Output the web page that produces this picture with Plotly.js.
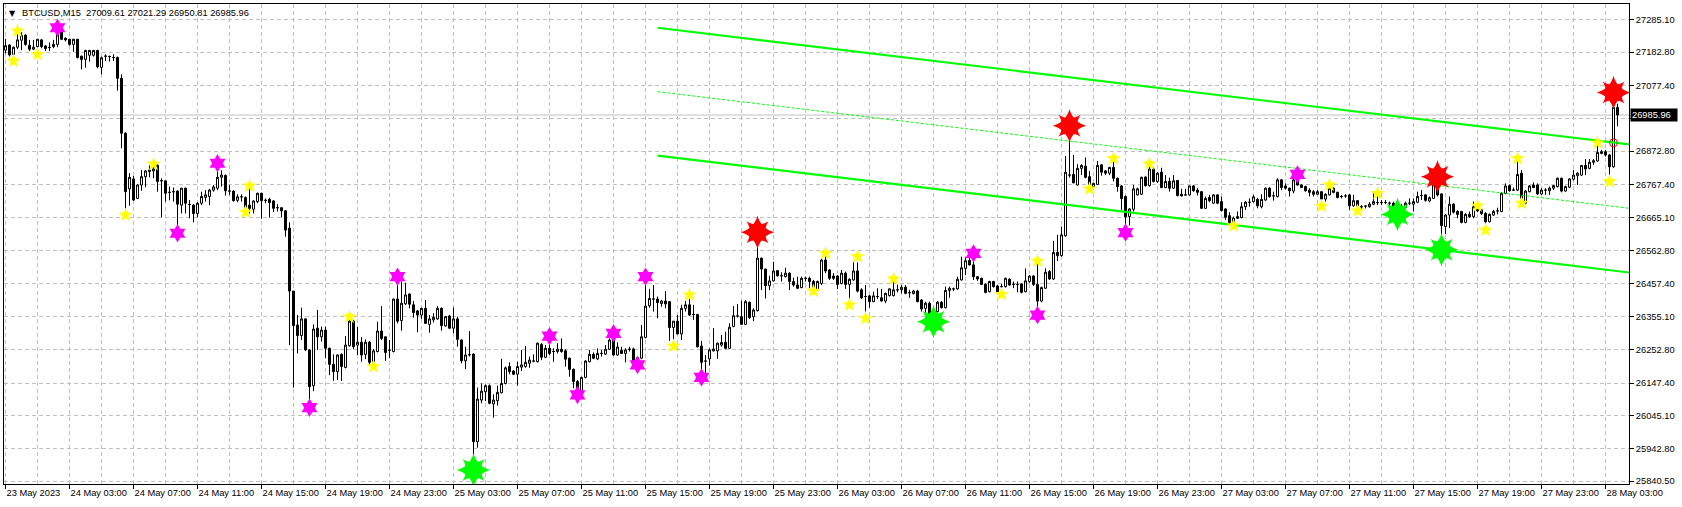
<!DOCTYPE html>
<html><head><meta charset="utf-8">
<script src="https://cdn.plot.ly/plotly-3.0.1.min.js"></script>
<style>html,body{margin:0;padding:0;background:#fff}#chart{width:1682px;height:507px}</style>
</head><body><div id="chart"></div>
<script>
// Bar index 0 = 24 May 03:00 (M15 bars), first bar = 23 May 23:00
const symbol = 'BTCUSD', period = 'M15';
const firstBar = -16;
const open = [
27189,27205,27176,27198,27220,27236,27204,27192,
27200,27221,27202,27198,27200,27207,27245,27226,
27223,27207,27223,27170,27160,27173,27173,27188,
27135,27170,27169,27166,27166,27101,26929,26755,
26786,26725,26767,26793,26809,26811,26829,26781,
26780,26744,26746,26748,26704,26757,26706,26704,
26678,26710,26728,26731,26751,26757,26791,26797,
26748,26748,26719,26730,26728,26704,26691,26715,
26741,26719,26722,26717,26696,26696,26686,26632,
26435,26329,26296,26348,26251,26139,26319,26292,
26313,26256,26206,26183,26237,26196,26264,26341,
26266,26275,26237,26275,26214,26246,26310,26292,
26250,26246,26410,26343,26395,26426,26392,26373,
26360,26381,26331,26345,26348,26381,26326,26357,
26319,26348,26282,26217,26236,26238,25964,26094,
26120,26139,26082,26092,26117,26146,26199,26185,
26175,26197,26199,26209,26216,26214,26268,26228,
26256,26246,26246,26253,26248,26225,26190,26152,
26122,26165,26214,26237,26223,26240,26238,26253,
26282,26235,26249,26240,26253,26254,26214,26225,
26290,26389,26410,26410,26396,26404,26402,26321,
26341,26301,26381,26392,26362,26362,26263,26216,
26223,26248,26248,26266,26275,26256,26324,26357,
26355,26331,26400,26355,26374,26538,26504,26452,
26467,26499,26483,26480,26491,26465,26454,26446,
26475,26475,26465,26439,26459,26532,26501,26482,
26482,26459,26491,26456,26470,26498,26439,26418,
26420,26402,26418,26414,26404,26421,26421,26439,
26439,26447,26430,26427,26435,26407,26381,26397,
26371,26371,26400,26383,26437,26442,26442,26470,
26506,26531,26517,26480,26475,26456,26433,26465,
26451,26449,26449,26472,26456,26456,26457,26433,
26465,26482,26456,26404,26444,26496,26473,26556,
26546,26608,26798,26800,26767,26819,26826,26793,
26762,26769,26830,26811,26804,26822,26788,26764,
26731,26668,26691,26736,26738,26792,26765,26817,
26778,26807,26759,26778,26757,26781,26738,26736,
26736,26764,26751,26746,26694,26728,26710,26736,
26715,26692,26671,26650,26668,26665,26699,26713,
26715,26722,26699,26720,26757,26733,26731,26783,
26764,26757,26748,26783,26767,26762,26751,26746,
26738,26746,26723,26736,26757,26744,26731,26733,
26736,26702,26718,26699,26701,26699,26707,26712,
26712,26712,26710,26710,26696,26699,26696,26710,
26707,26713,26734,26736,26717,26725,26767,26739,
26637,26673,26707,26684,26684,26650,26675,26668,
26696,26689,26678,26652,26673,26686,26684,26741,
26765,26751,26751,26804,26710,26746,26767,26767,
26739,26751,26749,26757,26762,26788,26748,26760,
26785,26796,26798,26828,26819,26838,26842,26871,
26871,26861,26824,27009.61
];
const high = [
27224,27207,27200,27238,27245,27238,27221,27221,
27224,27224,27205,27213,27221,27252,27255,27229,
27224,27224,27224,27172,27190,27190,27190,27190,
27169,27176,27172,27176,27169,27113,26932,26804,
26795,26769,26814,26814,26828,26828,26830,26788,
26780,26762,26759,26750,26758,26759,26720,26707,
26713,26746,26751,26755,26767,26809,26813,26800,
26767,26750,26738,26738,26731,26755,26719,26743,
26743,26725,26727,26720,26707,26696,26689,26650,
26435,26360,26383,26350,26253,26331,26376,26324,
26324,26258,26237,26237,26240,26294,26355,26345,
26323,26291,26284,26279,26254,26339,26388,26292,
26282,26412,26467,26465,26461,26428,26404,26376,
26383,26407,26360,26366,26388,26384,26357,26360,
26384,26355,26284,26261,26310,26240,26133,26146,
26143,26143,26112,26139,26223,26199,26212,26188,
26214,26251,26263,26230,26237,26274,26272,26266,
26282,26256,26272,26287,26253,26227,26193,26157,
26167,26219,26251,26243,26256,26251,26266,26287,
26285,26275,26261,26256,26261,26258,26230,26329,
26470,26442,26454,26418,26407,26435,26402,26341,
26360,26392,26404,26410,26392,26363,26279,26235,
26256,26319,26274,26298,26308,26334,26388,26394,
26405,26407,26402,26381,26581,26540,26504,26483,
26527,26501,26494,26508,26494,26477,26480,26480,
26480,26480,26470,26468,26538,26543,26504,26491,
26485,26501,26496,26475,26527,26525,26444,26454,
26423,26433,26444,26442,26430,26444,26470,26456,
26454,26454,26439,26439,26439,26410,26402,26402,
26379,26404,26404,26449,26449,26446,26480,26543,
26540,26541,26532,26482,26477,26459,26467,26467,
26454,26458,26477,26475,26465,26465,26459,26506,
26485,26485,26519,26449,26506,26501,26592,26611,
26637,26858,26944,26861,26832,26832,26853,26811,
26772,26842,26832,26814,26824,26840,26790,26767,
26734,26694,26767,26759,26793,26794,26828,26821,
26807,26821,26798,26790,26798,26783,26755,26755,
26765,26767,26757,26748,26731,26736,26738,26738,
26731,26694,26682,26668,26684,26713,26717,26725,
26736,26727,26738,26759,26760,26746,26788,26785,
26772,26759,26798,26788,26769,26765,26757,26751,
26751,26748,26741,26759,26759,26746,26736,26738,
26738,26736,26720,26704,26704,26713,26741,26731,
26720,26720,26715,26715,26699,26707,26715,26725,
26725,26746,26751,26738,26731,26780,26772,26741,
26676,26731,26710,26688,26686,26679,26684,26715,
26699,26691,26682,26678,26689,26696,26744,26772,
26769,26759,26840,26814,26751,26767,26775,26772,
26757,26757,26762,26767,26790,26790,26765,26788,
26814,26807,26830,26848,26848,26848,26894,26877,
26877,26863,27015,27021.29
];
const low = [
27179,27169,27172,27192,27189,27203,27186,27189,
27184,27195,27186,27186,27195,27198,27221,27216,
27203,27184,27163,27129,27134,27153,27169,27132,
27113,27155,27153,27155,27062,26882,26684,26702,
26717,26723,26749,26760,26791,26788,26746,26666,
26715,26719,26715,26632,26678,26678,26663,26650,
26666,26704,26715,26704,26746,26751,26762,26734,
26736,26715,26713,26715,26694,26678,26678,26710,
26661,26710,26665,26682,26684,26666,26605,26266,
26133,26240,26282,26248,26073,26122,26251,26277,
26225,26172,26154,26157,26154,26193,26261,26253,
26235,26214,26222,26202,26214,26243,26282,26217,
26225,26243,26334,26311,26392,26381,26352,26306,
26348,26332,26305,26337,26345,26311,26324,26316,
26303,26261,26209,26191,26230,25857,25945,26084,
26091,26081,26039,26077,26115,26143,26175,26172,
26139,26185,26195,26195,26212,26212,26219,26225,
26235,26214,26240,26242,26199,26167,26131,26120,
26120,26162,26212,26222,26219,26230,26235,26251,
26233,26233,26238,26212,26246,26206,26209,26222,
26287,26383,26371,26350,26386,26381,26279,26282,
26300,26282,26371,26357,26345,26258,26178,26178,
26202,26246,26223,26261,26253,26254,26322,26352,
26329,26329,26348,26341,26371,26438,26412,26438,
26465,26480,26465,26478,26438,26449,26441,26444,
26465,26444,26433,26435,26454,26491,26470,26470,
26441,26456,26442,26407,26467,26431,26410,26362,
26383,26400,26410,26402,26397,26418,26418,26431,
26428,26425,26414,26425,26400,26371,26366,26352,
26355,26368,26381,26381,26414,26435,26439,26468,
26485,26515,26470,26467,26454,26428,26431,26446,
26431,26437,26446,26452,26444,26431,26428,26431,
26461,26451,26381,26400,26442,26470,26470,26529,
26543,26605,26790,26772,26765,26798,26788,26762,
26759,26767,26796,26798,26798,26778,26746,26689,
26637,26640,26684,26734,26736,26762,26762,26775,
26774,26757,26757,26746,26755,26731,26731,26734,
26734,26746,26734,26692,26692,26713,26708,26707,
26684,26658,26647,26647,26661,26663,26689,26699,
26712,26694,26694,26717,26727,26718,26728,26751,
26753,26731,26741,26765,26757,26746,26731,26731,
26736,26718,26715,26734,26741,26725,26725,26727,
26689,26699,26699,26689,26694,26696,26704,26704,
26704,26707,26702,26694,26692,26692,26694,26704,
26684,26710,26720,26715,26713,26723,26731,26564,
26613,26632,26678,26663,26647,26647,26665,26663,
26682,26673,26637,26650,26670,26675,26682,26738,
26746,26748,26748,26710,26707,26744,26757,26736,
26736,26736,26736,26751,26759,26744,26746,26757,
26781,26767,26795,26798,26816,26830,26840,26863,
26856,26788,26821,26950.81
];
const close = [
27203,27174,27198,27221,27235,27207,27192,27198,
27223,27200,27194,27197,27207,27245,27223,27221,
27207,27223,27166,27160,27188,27188,27188,27137,
27165,27170,27169,27166,27101,26929,26746,26791,
26720,26767,26793,26811,26814,26817,26778,26780,
26741,26744,26746,26707,26757,26710,26706,26678,
26710,26731,26736,26751,26761,26791,26798,26749,
26748,26718,26730,26730,26697,26694,26717,26741,
26718,26719,26712,26694,26696,26686,26626,26435,
26327,26296,26348,26251,26136,26316,26292,26313,
26256,26206,26183,26235,26199,26266,26341,26261,
26275,26235,26275,26212,26248,26310,26287,26243,
26250,26410,26341,26397,26423,26394,26368,26360,
26381,26334,26348,26353,26381,26327,26355,26319,
26348,26284,26217,26235,26236,25964,26097,26122,
26139,26084,26094,26118,26146,26195,26183,26175,
26199,26204,26212,26219,26216,26272,26228,26256,
26240,26246,26253,26246,26222,26190,26152,26122,
26165,26216,26237,26225,26240,26240,26253,26282,
26235,26260,26240,26251,26253,26214,26227,26292,
26388,26412,26410,26399,26404,26395,26321,26341,
26301,26381,26392,26360,26362,26261,26212,26216,
26251,26254,26272,26274,26256,26322,26358,26357,
26331,26402,26352,26376,26538,26504,26452,26467,
26498,26483,26483,26491,26465,26454,26444,26475,
26475,26465,26444,26465,26532,26498,26475,26475,
26456,26491,26456,26472,26498,26435,26414,26418,
26402,26420,26418,26404,26428,26442,26439,26439,
26447,26428,26430,26435,26402,26379,26397,26360,
26371,26400,26383,26437,26444,26442,26472,26508,
26530,26517,26480,26473,26456,26431,26465,26449,
26433,26449,26475,26454,26456,26456,26431,26467,
26482,26456,26404,26446,26494,26473,26556,26546,
26611,26807,26798,26774,26819,26828,26791,26767,
26772,26828,26807,26804,26822,26788,26762,26725,
26668,26692,26755,26755,26791,26765,26817,26778,
26804,26759,26778,26757,26780,26734,26733,26736,
26764,26749,26744,26694,26725,26718,26736,26710,
26687,26666,26650,26663,26663,26699,26713,26713,
26730,26702,26722,26757,26731,26733,26783,26759,
26757,26749,26783,26767,26759,26749,26744,26738,
26746,26723,26738,26757,26744,26728,26731,26733,
26702,26718,26702,26699,26701,26707,26715,26712,
26712,26712,26710,26696,26696,26694,26710,26710,
26715,26731,26734,26719,26727,26767,26736,26640,
26673,26707,26682,26675,26650,26675,26668,26699,
26686,26678,26652,26675,26684,26686,26741,26764,
26749,26751,26800,26725,26748,26764,26759,26739,
26751,26751,26757,26765,26788,26748,26762,26786,
26798,26804,26828,26817,26838,26843,26869,26866,
26861,26824,27009.61,26985.96
];

// Time axis labels (every 16 bars)
const timeTickIdx = [-16,0,16,32,48,64,80,96,112,128,144,160,176,192,208,224,240,256,272,288,304,320,336,352,368,384];
const timeTickText = ['23 May 2023','24 May 03:00','24 May 07:00','24 May 11:00','24 May 15:00','24 May 19:00','24 May 23:00',
  '25 May 03:00','25 May 07:00','25 May 11:00','25 May 15:00','25 May 19:00','25 May 23:00',
  '26 May 03:00','26 May 07:00','26 May 11:00','26 May 15:00','26 May 19:00','26 May 23:00',
  '27 May 03:00','27 May 07:00','27 May 11:00','27 May 15:00','27 May 19:00','27 May 23:00','28 May 03:00'];
// Price axis labels (the one under the current-price box is hidden by it)
const priceTicks = [27285.10,27182.80,27077.40,26975.10,26872.80,26767.40,26665.10,26562.80,26457.40,26355.10,26252.80,26147.40,26045.10,25942.80,25840.50];
const priceTickText = ['27285.10','27182.80','27077.40','','26872.80','26767.40','26665.10','26562.80','26457.40','26355.10','26252.80','26147.40','26045.10','25942.80','25840.50'];

// Indicator signals
const yellowIdx = [-14,-13,-8,14,21,44,45,70,76,151,155,186,189,195,197,199,206,233,242,255,261,270,291,313,315,322,327,352,354,362,363,382,385];
const yellowPrice = [27155,27249,27176,26673,26832,26682,26764,26354,26199,26263,26423,26435,26553,26392,26543,26350,26473,26425,26529,26755,26850,26833,26639,26701,26767,26686,26741,26702,26626,26850,26710,26899,26778];
const magentaIdx = [-3,27,37,60,82,120,127,136,142,144,158,226,242,264,307];
const magentaPrice = [27259,26616,26835,26070,26480,26294,26110,26303,26204,26480,26165,26553,26360,26618,26800];
const redIdx = [172,250,342,386];
const redPrice = [26619,26952,26793,27056];
const greenIdx = [101,216,332,343];
const greenPrice = [25875,26339,26675,26564];
const circleIdx = [386];
const circlePrice = [26899];

// Regression channel
const channelIdx = [147,390];
const channelUpper = [27259,26894];
const channelMiddle = [27059,26694];
const channelLower = [26859,26493];

const xs = open.map((_, k) => firstBar + k);
const last = open.length - 1;
const lastClose = close[last];

const traces = [
  {type:'candlestick', x: xs, open: open, high: high, low: low, close: close,
   whiskerwidth: 0, hoverinfo: 'skip',
   increasing: {line: {color: '#000000', width: 1}, fillcolor: '#ffffff'},
   decreasing: {line: {color: '#000000', width: 1}, fillcolor: '#000000'}},
  {type:'scatter', mode:'lines', x: channelIdx, y: channelUpper, line:{color:'#00ff00', width:2.2}, hoverinfo:'skip'},
  {type:'scatter', mode:'lines', x: channelIdx, y: channelLower, line:{color:'#00ff00', width:2.2}, hoverinfo:'skip'},
  {type:'scatter', mode:'lines', x: channelIdx, y: channelMiddle, line:{color:'#00ff00', width:1, dash:'3px,2px'}, hoverinfo:'skip'},
  {type:'scatter', mode:'markers', x: yellowIdx, y: yellowPrice, marker:{symbol:'star', size:11, color:'#ffff00', line:{width:0}}, hoverinfo:'skip'},
  {type:'scatter', mode:'markers', x: magentaIdx, y: magentaPrice, marker:{symbol:'hexagram', size:14, color:'#ff00ff', line:{width:0}}, hoverinfo:'skip'},
  {type:'scatter', mode:'markers', x: redIdx, y: redPrice, marker:{symbol:'star-square', size:20, color:'#ff0000', line:{width:0}}, hoverinfo:'skip'},
  {type:'scatter', mode:'markers', x: redIdx, y: redPrice, marker:{symbol:'star-diamond', size:24, color:'#ff0000', line:{width:0}}, hoverinfo:'skip'},
  {type:'scatter', mode:'markers', x: greenIdx, y: greenPrice, marker:{symbol:'star-square', size:20, color:'#00ff00', line:{width:0}}, hoverinfo:'skip'},
  {type:'scatter', mode:'markers', x: greenIdx, y: greenPrice, marker:{symbol:'star-diamond', size:24, color:'#00ff00', line:{width:0}}, hoverinfo:'skip'},
  {type:'scatter', mode:'markers', x: circleIdx, y: circlePrice, marker:{symbol:'circle-open', size:8, color:'#ff0000', line:{width:1, color:'#ff0000'}}, hoverinfo:'skip'}
];

const gridColor = '#c0c0c0', gridDash = '4px,3px';
const fontFam = '"Liberation Sans", Arial, "DejaVu Sans", sans-serif';
const fmt = v => v.toFixed(2);

const layout = {
  width: 1682, height: 507,
  margin: {l: 4, r: 53, t: 4, b: 23, pad: 0},
  paper_bgcolor: '#ffffff', plot_bgcolor: '#ffffff',
  showlegend: false,
  font: {family: fontFam, size: 9.3, color: '#000000'},
  boxgap: 0.5, boxgroupgap: 0,
  xaxis: {
    range: [-16.375, 389.875], fixedrange: true,
    rangeslider: {visible: false},
    tickmode: 'array', tickvals: timeTickIdx, ticktext: timeTickText,
    tickangle: 0, automargin: false,
    ticks: 'outside', ticklen: 4, tickcolor: '#000000', tickwidth: 1,
    ticklabelposition: 'outside right',
    tickfont: {family: fontFam, size: 9.3, color: '#000000'},
    showgrid: true, gridcolor: gridColor, griddash: gridDash, gridwidth: 1,
    minor: {tickmode: 'linear', tick0: 0, dtick: 8, showgrid: true, gridcolor: gridColor, griddash: gridDash, gridwidth: 1, ticks: ''},
    showline: true, linecolor: '#000000', linewidth: 1, mirror: true,
    zeroline: false
  },
  yaxis: {
    range: [25831.4, 27333.3], fixedrange: true, side: 'right',
    tickmode: 'array', tickvals: priceTicks, ticktext: priceTickText,
    automargin: false,
    ticks: 'outside', ticklen: 4, tickcolor: '#000000', tickwidth: 1,
    tickfont: {family: fontFam, size: 9.3, color: '#000000'},
    showgrid: true, gridcolor: gridColor, griddash: gridDash, gridwidth: 1,
    showline: true, linecolor: '#000000', linewidth: 1, mirror: true,
    zeroline: false
  },
  shapes: [
    {type: 'line', xref: 'paper', x0: 0, x1: 1, yref: 'y', y0: lastClose, y1: lastClose,
     line: {color: '#c0c0c0', width: 1}, layer: 'between'}
  ],
  annotations: [
    {xref: 'paper', yref: 'paper', x: 0, y: 1, xanchor: 'left', yanchor: 'middle', xshift: 3, yshift: -9,
     text: '\u25BC', showarrow: false, font: {family: '"DejaVu Sans", sans-serif', size: 8, color: '#000000'}},
    {xref: 'paper', yref: 'paper', x: 0, y: 1, xanchor: 'left', yanchor: 'middle', xshift: 15.5, yshift: -9,
     text: symbol + ',' + period + '\u00a0\u00a0' + [open[last], high[last], low[last], close[last]].map(fmt).join(' '),
     showarrow: false, font: {family: fontFam, size: 9.3, color: '#000000'}},
    {xref: 'paper', yref: 'y', x: 1, y: lastClose, xanchor: 'left', yanchor: 'middle', xshift: 1,
     text: fmt(lastClose), showarrow: false, bgcolor: '#000000', borderpad: 1, width: 44, align: 'left',
     font: {family: fontFam, size: 9.3, color: '#ffffff'}}
  ]
};

Plotly.newPlot('chart', traces, layout, {staticPlot: true, displayModeBar: false});
</script>
</body></html>
